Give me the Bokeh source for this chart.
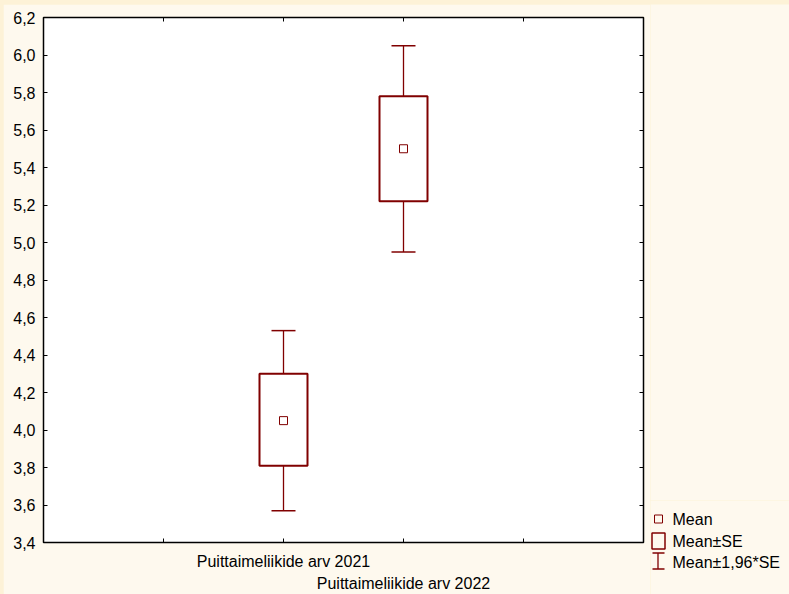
from bokeh.plotting import figure
from bokeh.models import Range1d, LinearAxis, FixedTicker, CustomJSTickFormatter, ColumnDataSource
from bokeh.layouts import row, column
from bokeh.embed import file_html
from bokeh.resources import INLINE
from bokeh.core.properties import value

# ---- data ----
categories = ["Puittaimeliikide arv 2021", "Puittaimeliikide arv 2022"]
cat_pos = [2, 3]
means = [4.05, 5.50]
se_low = [3.81, 5.22]
se_high = [4.30, 5.78]
ci_low = [3.57, 4.95]
ci_high = [4.53, 6.05]
y_ticks = [3.4, 3.6, 3.8, 4.0, 4.2, 4.4, 4.6, 4.8, 5.0, 5.2, 5.4, 5.6, 5.8, 6.0, 6.2]
x_ticks = [1, 2, 3, 4]
legend_labels = ["Mean", "Mean\u00b1SE", "Mean\u00b11,96*SE"]

BG = "#FEF9EE"
STRIP = "#FDF2D7"
RED = "#800000"
FONT = "Liberation Sans"
FS = "16px"
BOX_W = 0.4
CAP_W = 0.2
PAD_L, PAD_T = 3, 4          # page-edge strips

p = figure(width=650 - PAD_L, height=594 - PAD_T, output_backend="svg", toolbar_location=None,
           x_range=Range1d(0, 5), y_range=Range1d(3.4, 6.2),
           x_axis_location=None, y_axis_location=None,
           min_border_left=43 - PAD_L, min_border_right=7, min_border_top=17 - PAD_T,
           min_border_bottom=52)
p.border_fill_color = BG
p.background_fill_color = "white"
p.outline_line_color = "black"
p.outline_line_width = 1.5
p.xgrid.visible = False
p.ygrid.visible = False

def style_axis(ax):
    ax.axis_line_color = "black"
    ax.major_tick_in = 4
    ax.major_tick_out = 0
    ax.minor_tick_line_color = None
    ax.major_tick_line_color = "black"
    ax.major_label_text_font = FONT
    ax.major_label_text_font_size = FS
    ax.major_label_text_color = "black"

comma_fmt = CustomJSTickFormatter(code="return tick.toFixed(1).replace('.', ',');")
blank_fmt = CustomJSTickFormatter(code="return '';")

left = LinearAxis(ticker=FixedTicker(ticks=y_ticks), formatter=comma_fmt)
style_axis(left)
left.major_label_standoff = 8
p.add_layout(left, "left")

right = LinearAxis(ticker=FixedTicker(ticks=y_ticks), formatter=blank_fmt)
style_axis(right)
right.major_label_standoff = 0
p.add_layout(right, "right")

top = LinearAxis(ticker=FixedTicker(ticks=x_ticks), formatter=blank_fmt)
style_axis(top)
top.major_label_standoff = 0
p.add_layout(top, "above")

fmtA = CustomJSTickFormatter(args=dict(pos=cat_pos[:1], names=categories[:1]),
                             code="const i = pos.indexOf(tick); return i >= 0 ? names[i] : '';")
bottomA = LinearAxis(ticker=FixedTicker(ticks=x_ticks), formatter=fmtA)
style_axis(bottomA)
bottomA.major_label_standoff = 10
p.add_layout(bottomA, "below")

fmtB = CustomJSTickFormatter(args=dict(pos=cat_pos[1:], names=categories[1:]),
                             code="const i = pos.indexOf(tick); return i >= 0 ? names[i] : '';")
bottomB = LinearAxis(ticker=FixedTicker(ticks=cat_pos[1:]), formatter=fmtB)
style_axis(bottomB)
bottomB.axis_line_color = None
bottomB.major_tick_line_color = None
bottomB.major_tick_in = 0
bottomB.major_label_standoff = 2
p.add_layout(bottomB, "below")

src = ColumnDataSource(dict(
    x=cat_pos, mean=means, se_low=se_low, se_high=se_high, ci_low=ci_low, ci_high=ci_high,
    left=[c - BOX_W / 2 for c in cat_pos], right=[c + BOX_W / 2 for c in cat_pos],
    cl=[c - CAP_W / 2 for c in cat_pos], cr=[c + CAP_W / 2 for c in cat_pos],
))

# whiskers
p.segment(x0="x", y0="se_high", x1="x", y1="ci_high", source=src, line_color=RED, line_width=1.3)
p.segment(x0="x", y0="ci_low", x1="x", y1="se_low", source=src, line_color=RED, line_width=1.3)
p.segment(x0="cl", y0="ci_high", x1="cr", y1="ci_high", source=src, line_color=RED, line_width=1.5)
p.segment(x0="cl", y0="ci_low", x1="cr", y1="ci_low", source=src, line_color=RED, line_width=1.5)
# SE box
p.quad(left="left", right="right", bottom="se_low", top="se_high", source=src,
       fill_color="white", line_color=RED, line_width=2)
# mean
p.scatter(x="x", y="mean", source=src, marker="square", size=8,
          fill_color="white", line_color=RED, line_width=1)

# ---- legend panel: a small figure covering page pixels x 650..789, y 500..594 ----
LY0 = 500
leg = figure(width=139, height=94, output_backend="svg", toolbar_location=None,
             x_range=Range1d(0, 139), y_range=Range1d(94, 0),
             x_axis_location=None, y_axis_location=None,
             min_border=0, min_border_left=0, min_border_right=0,
             min_border_top=0, min_border_bottom=0)
leg.border_fill_color = BG
leg.background_fill_color = BG
leg.outline_line_color = None
leg.xgrid.visible = False
leg.ygrid.visible = False

def ly(py):
    return py - LY0

leg.scatter(x=[8], y=[ly(518.5)], marker="square", size=8, fill_color=BG, line_color=RED, line_width=1)
leg.quad(left=[1.5], right=[14.5], top=[ly(532.5)], bottom=[ly(548.5)], fill_color=BG,
         line_color=RED, line_width=1.5)
leg.segment(x0=[7.5], y0=[ly(552.5)], x1=[7.5], y1=[ly(568.5)], line_color=RED, line_width=1.3)
leg.segment(x0=[2], y0=[ly(552.5)], x1=[14], y1=[ly(552.5)], line_color=RED, line_width=1.5)
leg.segment(x0=[2], y0=[ly(568.5)], x1=[14], y1=[ly(568.5)], line_color=RED, line_width=1.5)
leg.text(x=[22, 22, 22], y=[ly(519), ly(540.5), ly(561.5)], text=legend_labels,
         text_font=value(FONT), text_font_size=FS, text_color="black",
         text_baseline="middle", text_align="left")

top_fill = figure(width=139, height=LY0 - PAD_T, output_backend="svg", toolbar_location=None,
                  x_axis_location=None, y_axis_location=None, min_border=0)
top_fill.border_fill_color = BG
top_fill.background_fill_color = BG
top_fill.outline_line_color = None
top_fill.xgrid.visible = False
top_fill.ygrid.visible = False

layout = row(p, column(top_fill, leg, spacing=0), spacing=0)
layout.styles = {"background-color": STRIP, "padding-left": f"{PAD_L}px", "padding-top": f"{PAD_T}px"}
open("out.html", "w").write(file_html(layout, INLINE))
